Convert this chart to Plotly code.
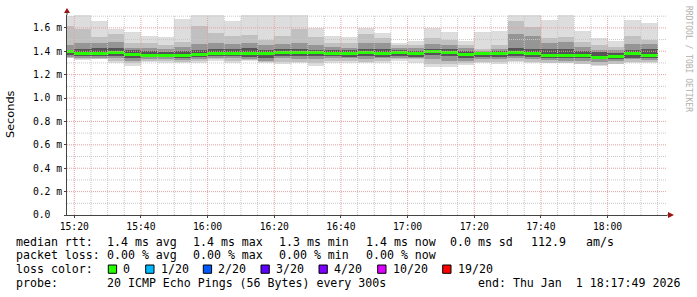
import plotly.graph_objects as go

# ---------------- data (milliseconds) ----------------
bar_start = ["15:15", "15:20", "15:25", "15:30", "15:35", "15:40", "15:45", "15:50", "15:55",
             "16:00", "16:05", "16:10", "16:15", "16:20", "16:25", "16:30", "16:35", "16:40",
             "16:45", "16:50", "16:55", "17:00", "17:05", "17:10", "17:15", "17:20", "17:25",
             "17:30", "17:35", "17:40", "17:45", "17:50", "17:55", "18:00", "18:05", "18:10"]

rtt_max = [1.70, 1.71, 1.66, 1.59, 1.565, 1.53, 1.52, 1.675, 1.71, 1.71, 1.66, 1.71, 1.71, 1.71,
           1.71, 1.60, 1.53, 1.525, 1.60, 1.56, 1.47, 1.49, 1.60, 1.565, 1.49, 1.565, 1.575,
           1.71, 1.71, 1.67, 1.71, 1.575, 1.51, 1.49, 1.67, 1.64]
rtt_hi_b = [1.62, 1.59, 1.52, 1.55, 1.47, 1.47, 1.455, 1.475, 1.62, 1.56, 1.53, 1.54, 1.50, 1.53,
            1.59, 1.52, 1.47, 1.47, 1.55, 1.51, 1.45, 1.45, 1.51, 1.50, 1.45, 1.42, 1.45, 1.66,
            1.61, 1.51, 1.52, 1.48, 1.45, 1.44, 1.53, 1.50]
rtt_hi_c = [1.45, 1.47, 1.47, 1.48, 1.43, 1.425, 1.42, 1.44, 1.46, 1.47, 1.46, 1.47, 1.45, 1.46,
            1.47, 1.45, 1.44, 1.43, 1.47, 1.47, 1.43, 1.43, 1.46, 1.45, 1.43, 1.40, 1.42, 1.55,
            1.53, 1.47, 1.48, 1.44, 1.41, 1.41, 1.46, 1.46]
rtt_hi_d = [1.41, 1.42, 1.43, 1.43, 1.41, 1.40, 1.395, 1.40, 1.41, 1.42, 1.42, 1.43, 1.41, 1.42,
            1.42, 1.41, 1.41, 1.41, 1.42, 1.42, 1.41, 1.40, 1.42, 1.42, 1.40, 1.39, 1.40, 1.43,
            1.42, 1.42, 1.42, 1.40, 1.39, 1.385, 1.41, 1.42]
rtt_median = [1.395, 1.385, 1.385, 1.39, 1.375, 1.367, 1.367, 1.36, 1.37, 1.38, 1.38, 1.383,
              1.377, 1.39, 1.39, 1.39, 1.382, 1.382, 1.39, 1.377, 1.387, 1.382, 1.402, 1.39,
              1.37, 1.383, 1.383, 1.387, 1.38, 1.36, 1.36, 1.368, 1.348, 1.355, 1.377, 1.365]
rtt_lo_d = [1.37, 1.36, 1.36, 1.36, 1.345, 1.35, 1.35, 1.345, 1.35, 1.36, 1.36, 1.35, 1.345, 1.36,
            1.36, 1.36, 1.36, 1.355, 1.36, 1.355, 1.36, 1.355, 1.37, 1.36, 1.34, 1.355, 1.355,
            1.36, 1.355, 1.345, 1.34, 1.34, 1.33, 1.335, 1.345, 1.345]
rtt_lo_c = [1.35, 1.34, 1.345, 1.34, 1.32, 1.33, 1.33, 1.325, 1.33, 1.34, 1.34, 1.335, 1.32, 1.34,
            1.335, 1.33, 1.34, 1.34, 1.33, 1.34, 1.345, 1.34, 1.33, 1.32, 1.32, 1.335, 1.335,
            1.34, 1.335, 1.325, 1.32, 1.32, 1.31, 1.315, 1.33, 1.325]
rtt_lo_b = [1.345, 1.33, 1.335, 1.32, 1.30, 1.315, 1.315, 1.31, 1.32, 1.33, 1.32, 1.325, 1.305,
            1.31, 1.31, 1.30, 1.32, 1.32, 1.31, 1.32, 1.33, 1.33, 1.29, 1.29, 1.30, 1.31, 1.31,
            1.32, 1.31, 1.30, 1.30, 1.29, 1.28, 1.29, 1.31, 1.31]
rtt_min = [1.34, 1.325, 1.33, 1.30, 1.277, 1.31, 1.30, 1.297, 1.30, 1.32, 1.30, 1.32, 1.297,
           1.288, 1.297, 1.274, 1.297, 1.297, 1.297, 1.30, 1.316, 1.30, 1.268, 1.268, 1.282,
           1.297, 1.29, 1.31, 1.30, 1.297, 1.30, 1.288, 1.277, 1.29, 1.30, 1.297]

y_tick_vals = [0.0, 0.2, 0.4, 0.6, 0.8, 1.0, 1.2, 1.4, 1.6]
y_tick_text = ["0.0\u00a0\u00a0", "0.2 m", "0.4 m", "0.6 m", "0.8 m", "1.0 m", "1.2 m", "1.4 m", "1.6 m"]
x_tick_text = ["15:20", "15:40", "16:00", "16:20", "16:40", "17:00", "17:20", "17:40", "18:00"]

legend_rows = [
    [("median rtt:", 16), ("1.4 ms avg", 107.3), ("1.4 ms max", 193.3), ("1.3 ms min", 279.3),
     ("1.4 ms now", 366), ("0.0 ms sd", 450), ("112.9", 531), ("am/s", 586)],
    [("packet loss:", 16), ("0.00 % avg", 107.3), ("0.00 % max", 193.3), ("0.00 % min", 279.3),
     ("0.00 % now", 366)],
    [("loss color:", 16)],
    [("probe:", 16), ("20 ICMP Echo Pings (56 Bytes) every 300s", 107.3),
     ("end: Thu Jan  1 18:17:49 2026", 478.3)],
]
loss_labels = ["0", "1/20", "2/20", "3/20", "4/20", "10/20", "19/20"]
loss_colors = ["#26ff00", "#00b8ff", "#0059ff", "#5e00ff", "#7e00ff", "#dd00ff", "#ff0000"]

DAY = "2026-01-01 "
# ---------------- geometry ----------------
W, H = 697, 297
L, R, T, B = 67, 30, 15, 82
PW, PH = W - L - R, H - T - B


def px_x(p):
    return (p - L) / PW


def px_y(p):
    return (T + PH - p) / PH


xs = [DAY + t + ":00" for t in bar_start]
STEP = 300000
fig = go.Figure()

levels = [(rtt_min, rtt_max, "#dddddd"), (rtt_lo_b, rtt_hi_b, "#c0c0c0"),
          (rtt_lo_c, rtt_hi_c, "#959595"), (rtt_lo_d, rtt_hi_d, "#555555")]
for lo, hi, col in levels:
    fig.add_trace(go.Bar(x=xs, y=[h - l for h, l in zip(hi, lo)], base=lo, width=STEP, offset=0,
                         marker=dict(color=col, line=dict(width=0)), hoverinfo="skip",
                         showlegend=False))

half = 1.5 * 1.71 / PH
fig.add_trace(go.Bar(x=xs, y=[2 * half] * len(rtt_median), base=[m - half for m in rtt_median],
                     width=STEP, offset=0, marker=dict(color=loss_colors[0], line=dict(width=0)),
                     hoverinfo="skip", showlegend=False))

shapes = []
DOT = "1px,1px"
# vertical grid every 5 min
hours = [15, 16, 17, 18]
for hh in hours:
    for mm in range(0, 60, 5):
        if (hh, mm) < (15, 20) or (hh, mm) > (18, 15):
            continue
        major = mm % 20 == 0
        shapes.append(dict(type="line", xref="x", yref="paper", x0=f"{DAY}{hh}:{mm:02d}:00",
                           x1=f"{DAY}{hh}:{mm:02d}:00", y0=0, y1=1, layer="above",
                           line=dict(color="#e4a0a0" if major else "#c8c8c8", width=1, dash=DOT)))
for k in range(1, 18):
    v = k / 10
    major = k % 2 == 0
    shapes.append(dict(type="line", xref="paper", yref="y", x0=0, x1=1, y0=v, y1=v, layer="above",
                       line=dict(color="#e4a0a0" if major else "#c8c8c8", width=1, dash=DOT)))

ARROW = "#a01010"
shapes.append(dict(type="path", xref="paper", yref="paper", xsizemode="pixel", ysizemode="pixel",
                   xanchor=0, yanchor=1, path="M -3,2 L 3,2 L 0,7 Z", fillcolor=ARROW,
                   line=dict(width=0), layer="above"))
shapes.append(dict(type="path", xref="paper", yref="paper", xsizemode="pixel", ysizemode="pixel",
                   xanchor=0, yanchor=1, path="M 0,0 L 0,3", line=dict(color="#444", width=1),
                   layer="above"))
shapes.append(dict(type="path", xref="paper", yref="paper", xsizemode="pixel", ysizemode="pixel",
                   xanchor=1, yanchor=0, path="M 1,-3 L 1,3 L 7,0 Z", fillcolor=ARROW,
                   line=dict(width=0), layer="above"))
shapes.append(dict(type="path", xref="paper", yref="paper", xsizemode="pixel", ysizemode="pixel",
                   xanchor=1, yanchor=0, path="M 0,0 L 2,0", line=dict(color="#444", width=1),
                   layer="above"))

MONO = "DejaVu Sans Mono"
annotations = []
row_y = [241.7, 255.3, 269.3, 283.3]
for row, yy in zip(legend_rows, row_y):
    for txt, xx in row:
        annotations.append(dict(text=txt.replace(" ", "\u00a0"), xref="paper", yref="paper",
                                x=px_x(xx - 1), y=px_y(yy), xanchor="left", yanchor="middle",
                                showarrow=False, font=dict(family=MONO, size=11.6, color="#000"),
                                borderpad=0))

box_x = [108.3, 145.7, 203.3, 261, 319, 377.7, 442.7]
for bx, lab, col in zip(box_x, loss_labels, loss_colors):
    shapes.append(dict(type="rect", xref="paper", yref="paper", x0=px_x(bx), x1=px_x(bx + 8.3),
                       y0=px_y(273.3), y1=px_y(265), fillcolor=col,
                       line=dict(color="#000", width=1), layer="above"))
    annotations.append(dict(text=lab, xref="paper", yref="paper", x=px_x(bx + 14), y=px_y(269.3),
                            xanchor="left", yanchor="middle", showarrow=False, borderpad=0,
                            font=dict(family=MONO, size=11.6, color="#000")))

annotations.append(dict(text="Seconds", xref="paper", yref="paper", x=px_x(10), y=px_y(114),
                        xanchor="center", yanchor="middle", textangle=-90, showarrow=False,
                        font=dict(family="DejaVu Sans", size=11.3, color="#000")))
annotations.append(dict(text="RRDTOOL / TOBI OETIKER", xref="paper", yref="paper", x=px_x(688),
                        y=px_y(59), xanchor="center", yanchor="middle", textangle=90,
                        showarrow=False, font=dict(family=MONO, size=8, color="#b0b0b0")))

fig.update_layout(
    width=W, height=H, margin=dict(l=L, r=R, t=T, b=B, pad=0),
    paper_bgcolor="white", plot_bgcolor="white", barmode="overlay", bargap=0,
    showlegend=False, shapes=shapes, annotations=annotations,
    xaxis=dict(type="date", range=[DAY + "15:17:49", DAY + "18:17:49"],
               tickvals=[DAY + t + ":00" for t in x_tick_text], ticktext=x_tick_text,
               tickfont=dict(family=MONO, size=9.7, color="#000"), showgrid=False,
               zeroline=False, showline=True, linecolor="#444", linewidth=1,
               ticks="outside", ticklen=2, tickcolor="#444", fixedrange=True),
    yaxis=dict(range=[0, 1.71], tickvals=y_tick_vals, ticktext=y_tick_text,
               tickfont=dict(family=MONO, size=9.7, color="#000"), showgrid=False,
               zeroline=False, showline=True, linecolor="#444", linewidth=1,
               ticks="outside", ticklen=2, tickcolor="#444", fixedrange=True),
)

fig.write_html("out.html")
